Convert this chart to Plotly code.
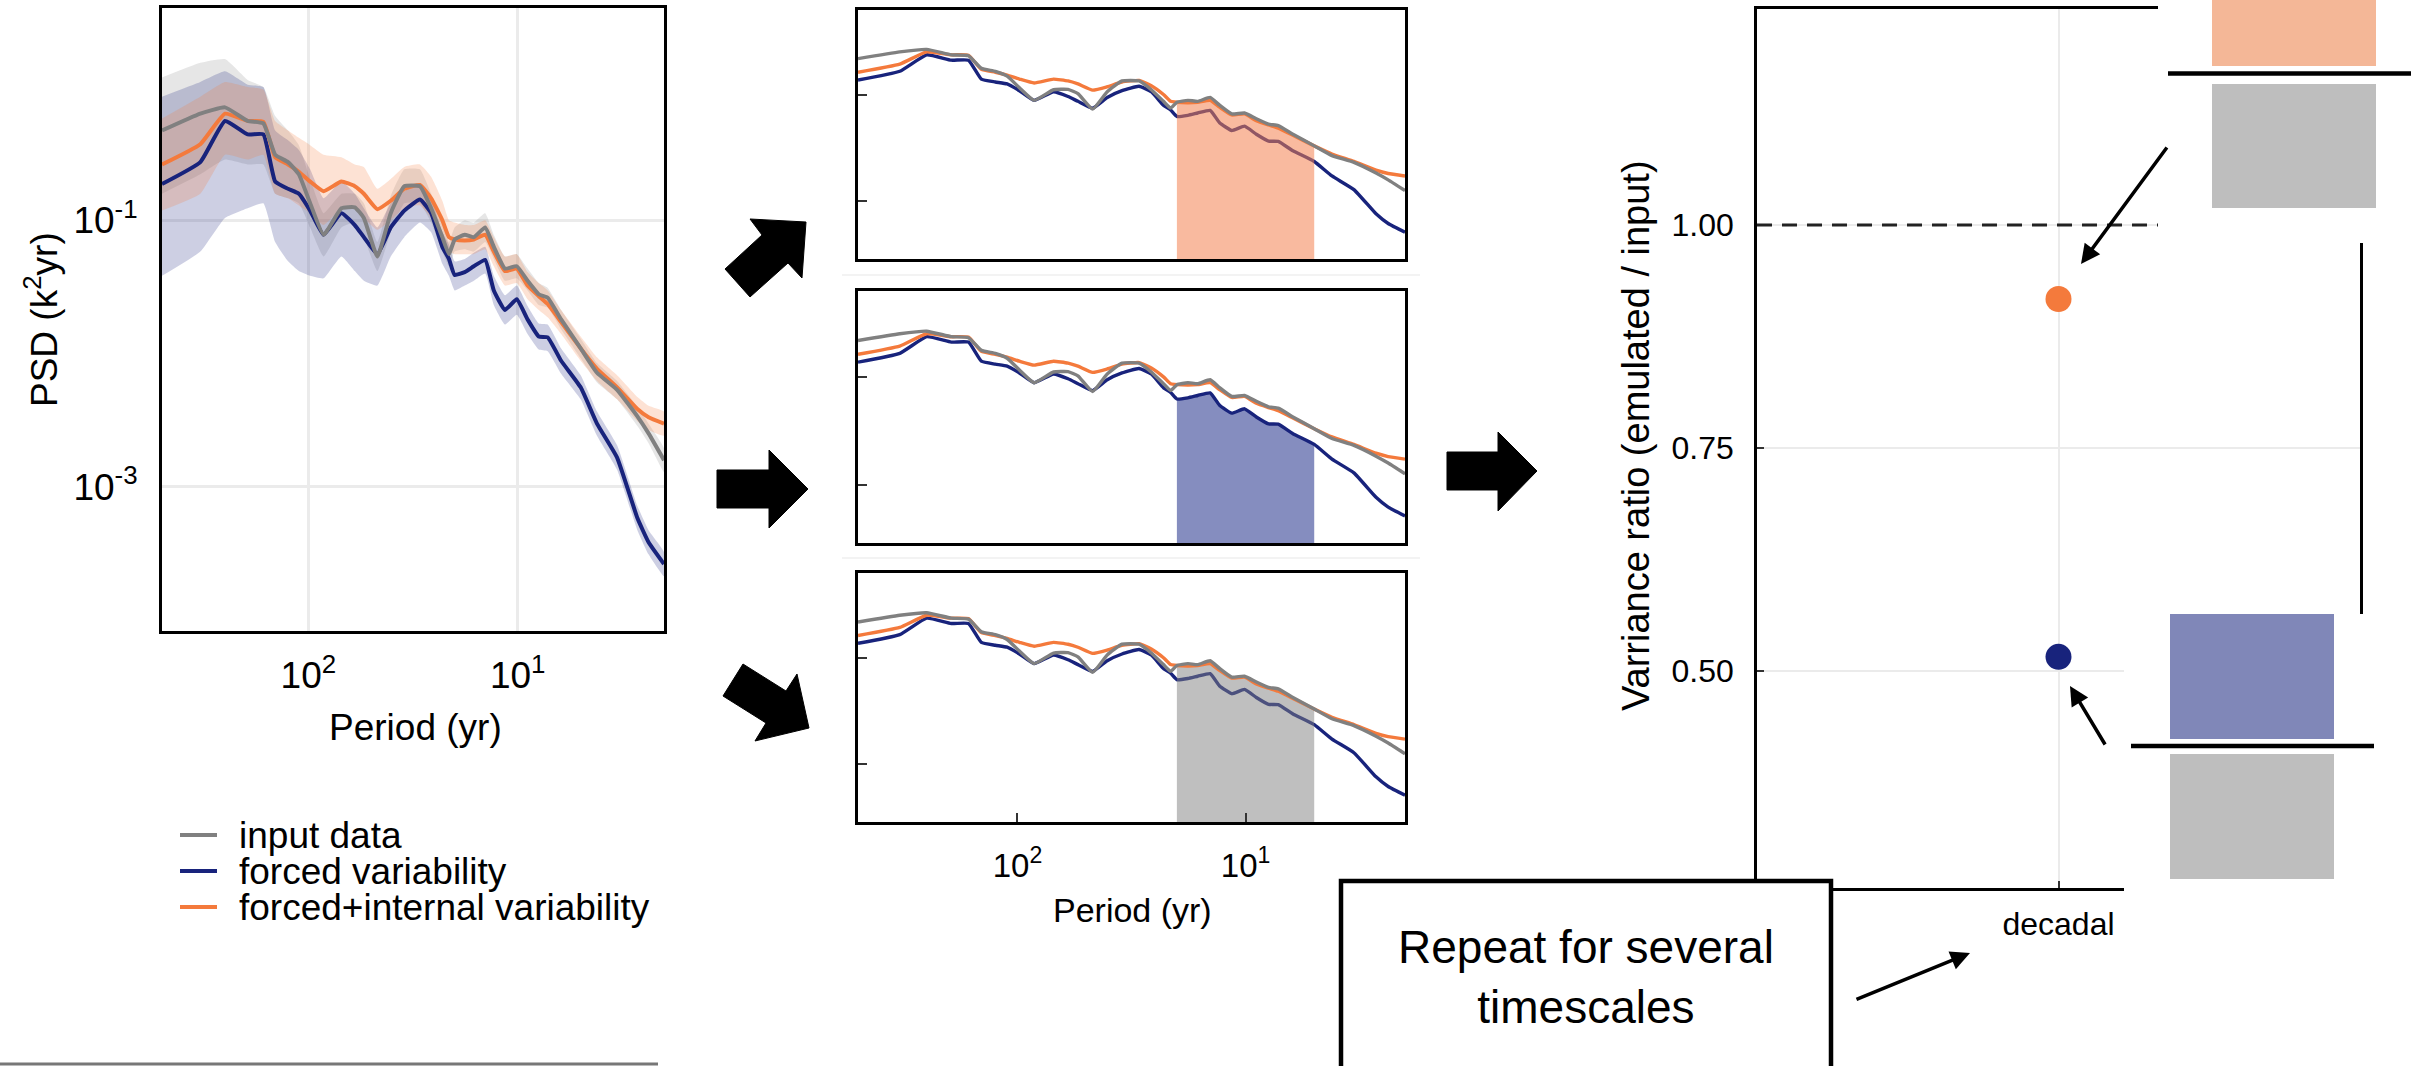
import math
import plotly.graph_objects as go

W, H = 2420, 1066

# ---------------- data ----------------
period = [500, 328, 250, 195, 164, 144, 125, 111, 98, 84.5, 69.5, 60, 54.3, 46.8, 40.4,
          34.8, 29.3, 25.9, 22.9, 21.3, 20, 17.9, 16.2, 14.3, 13.0, 11.5, 10.1, 8.97,
          7.93, 7.19, 6.20, 5.0, 4.18, 3.35, 2.68, 2.37, 2.0]

input_data = [0.471, 0.631, 0.703, 0.556, 0.533, 0.310, 0.273, 0.221, 0.134, 0.0778, 0.123,
              0.125, 0.104, 0.0534, 0.113, 0.180, 0.180, 0.123, 0.0746, 0.0556, 0.0716,
              0.0778, 0.0746, 0.0882, 0.0631, 0.0433, 0.0451, 0.0351, 0.0278, 0.0262,
              0.0180, 0.0109, 0.00716, 0.00533, 0.00337, 0.00251, 0.00158]

forced_internal = [0.262, 0.372, 0.631, 0.556, 0.547, 0.297, 0.262, 0.231, 0.195, 0.165, 0.195,
                   0.180, 0.158, 0.121, 0.140, 0.172, 0.184, 0.146, 0.100, 0.0746, 0.0716,
                   0.0703, 0.0716, 0.0778, 0.0581, 0.0415, 0.0433, 0.0323, 0.0269, 0.0235,
                   0.0172, 0.0109, 0.00766, 0.00556, 0.00382, 0.00331, 0.00297]

forced = [0.187, 0.273, 0.556, 0.441, 0.441, 0.195, 0.172, 0.158, 0.118, 0.0778, 0.113,
          0.0920, 0.0746, 0.0556, 0.0882, 0.118, 0.143, 0.113, 0.0631, 0.0512, 0.0388,
          0.0408, 0.0451, 0.0504, 0.0297, 0.0212, 0.0255, 0.0180, 0.0134, 0.0132,
          0.00881, 0.00556, 0.00297, 0.00165, 0.000581, 0.000382, 0.000262]

input_upper = [1.18, 1.52, 1.62, 1.13, 1.00, 0.605, 0.471, 0.366, 0.204, 0.113, 0.158, 0.158,
               0.134, 0.0686, 0.152, 0.241, 0.241, 0.158, 0.0959, 0.0686, 0.0882, 0.100,
               0.0959, 0.113, 0.0778, 0.0534, 0.0556, 0.0433, 0.0337, 0.0310, 0.0212,
               0.0129, 0.00846, 0.00621, 0.00398, 0.00297, 0.00195]
input_lower = [0.158, 0.221, 0.285, 0.262, 0.262, 0.158, 0.146, 0.134, 0.0882, 0.0534, 0.0882,
               0.0959, 0.0746, 0.0415, 0.0811, 0.134, 0.134, 0.0959, 0.0581, 0.0451, 0.0581,
               0.0605, 0.0581, 0.0686, 0.0512, 0.0351, 0.0366, 0.0297, 0.0231, 0.0221,
               0.0152, 0.00920, 0.00605, 0.00452, 0.00285, 0.00212, 0.00129]

fi_upper = [0.580, 0.846, 1.09, 1.00, 0.959, 0.556, 0.471, 0.415, 0.366, 0.310, 0.297, 0.262,
            0.251, 0.172, 0.204, 0.251, 0.262, 0.212, 0.140, 0.100, 0.0959, 0.0920, 0.0920,
            0.100, 0.0746, 0.0534, 0.0556, 0.0408, 0.0337, 0.0297, 0.0212, 0.0134, 0.00935,
            0.00686, 0.00471, 0.00405, 0.00366]
fi_lower = [0.118, 0.158, 0.310, 0.285, 0.310, 0.158, 0.146, 0.129, 0.113, 0.0920, 0.123,
            0.123, 0.104, 0.0846, 0.100, 0.123, 0.129, 0.104, 0.0716, 0.0581, 0.0556,
            0.0556, 0.0556, 0.0605, 0.0451, 0.0323, 0.0337, 0.0255, 0.0212, 0.0187,
            0.0140, 0.00881, 0.00621, 0.00452, 0.00310, 0.00266, 0.00241]

forced_upper = [0.846, 1.09, 1.31, 1.04, 1.00, 0.471, 0.398, 0.337, 0.241, 0.146, 0.195,
                0.158, 0.123, 0.0882, 0.134, 0.165, 0.187, 0.146, 0.0811, 0.0658, 0.0491,
                0.0512, 0.0570, 0.0631, 0.0382, 0.0273, 0.0323, 0.0227, 0.0168, 0.0165,
                0.0109, 0.00686, 0.00366, 0.00204, 0.000716, 0.000471, 0.000323]
forced_lower = [0.0382, 0.0581, 0.104, 0.123, 0.134, 0.0686, 0.0491, 0.0415, 0.0382, 0.0366,
                0.0534, 0.0415, 0.0351, 0.0323, 0.0534, 0.0746, 0.0959, 0.0811, 0.0471,
                0.0382, 0.0297, 0.0323, 0.0351, 0.0398, 0.0231, 0.0165, 0.0195, 0.0140,
                0.0107, 0.0104, 0.00704, 0.00452, 0.00241, 0.00134, 0.000471, 0.000310,
                0.000212]

band_long, band_short = 20, 5          # decadal band (yr)

timescales = ["decadal"]
ratio_forced_internal = [0.917]
ratio_forced = [0.516]

legend_labels = ["input data", "forced variability", "forced+internal variability"]
psd_ticks = [0.1, 0.001]
psd_ticktext = ["10<sup>-1</sup>", "10<sup>-3</sup>"]
period_ticks = [100, 10]
period_ticktext = ["10<sup>2</sup>", "10<sup>1</sup>"]
ratio_ticks = [0.5, 0.75, 1.0]
ratio_ticktext = ["0.50", "0.75", "1.00"]

# ---------------- styles ----------------
FONT = "Liberation Sans, Arial, Helvetica, sans-serif"
GRAY = "#808080"
BLUE = "#18237c"
ORANGE = "#f47a3c"
GRID = "#ebebeb"

x_range = [math.log10(500), math.log10(2)]
y_range = [-4.084, 0.593]


def px(x):
    return x / W


def py(y):
    return 1 - y / H


traces = []


def band(lo, hi, color, xa, ya):
    return go.Scatter(x=period + period[::-1], y=hi + lo[::-1], fill="toself",
                      fillcolor=color, line=dict(width=0, shape="spline", smoothing=0.4),
                      mode="lines", hoverinfo="skip", showlegend=False, xaxis=xa, yaxis=ya)


def line(y, color, width, xa, ya, name):
    return go.Scatter(x=period, y=y, mode="lines",
                      line=dict(color=color, width=width, shape="spline", smoothing=0.4),
                      showlegend=False, name=name, xaxis=xa, yaxis=ya)


# left panel
traces.append(band(input_lower, input_upper, "rgba(128,128,128,0.20)", "x", "y"))
traces.append(band(forced_lower, forced_upper, "rgba(26,35,126,0.22)", "x", "y"))
traces.append(band(fi_lower, fi_upper, "rgba(244,121,59,0.22)", "x", "y"))
traces.append(line(forced, BLUE, 4, "x", "y", legend_labels[1]))
traces.append(line(forced_internal, ORANGE, 4, "x", "y", legend_labels[2]))
traces.append(line(input_data, GRAY, 4, "x", "y", legend_labels[0]))

# middle panels
idx = [i for i, p in enumerate(period) if band_short <= p <= band_long]
sub_x = [period[i] for i in idx]
base = 10 ** y_range[0]


def shade(series, color, xa, ya):
    sy = [series[i] for i in idx]
    return go.Scatter(x=sub_x + sub_x[::-1], y=sy + [base] * len(sub_x), fill="toself",
                      fillcolor=color, line=dict(width=0), mode="lines",
                      hoverinfo="skip", showlegend=False, xaxis=xa, yaxis=ya)


mw = 3.4
# panel 1: forced+internal share
traces.append(line(forced, BLUE, mw, "x2", "y2", "forced"))
traces.append(shade(forced_internal, "rgba(244,130,80,0.55)", "x2", "y2"))
traces.append(line(forced_internal, ORANGE, mw, "x2", "y2", "fi"))
traces.append(line(input_data, GRAY, mw, "x2", "y2", "input"))
# panel 2: forced share
traces.append(shade(forced, "#858dbf", "x3", "y3"))
traces.append(line(forced, BLUE, mw, "x3", "y3", "forced"))
traces.append(line(forced_internal, ORANGE, mw, "x3", "y3", "fi"))
traces.append(line(input_data, GRAY, mw, "x3", "y3", "input"))
# panel 3: input share
traces.append(line(forced, BLUE, mw, "x4", "y4", "forced"))
traces.append(shade(input_data, "rgba(128,128,128,0.5)", "x4", "y4"))
traces.append(line(forced_internal, ORANGE, mw, "x4", "y4", "fi"))
traces.append(line(input_data, GRAY, mw, "x4", "y4", "input"))

# right panel
traces.append(go.Scatter(x=timescales, y=ratio_forced_internal, mode="markers",
                         marker=dict(size=26, color=ORANGE), showlegend=False,
                         xaxis="x5", yaxis="y5"))
traces.append(go.Scatter(x=timescales, y=ratio_forced, mode="markers",
                         marker=dict(size=26, color=BLUE), showlegend=False,
                         xaxis="x5", yaxis="y5"))

fig = go.Figure(traces)

# ---------------- axes ----------------
layout = dict(
    width=W, height=H, margin=dict(l=0, r=0, t=0, b=0),
    paper_bgcolor="white", plot_bgcolor="white",
    font=dict(family=FONT, color="black"),
    showlegend=False,
)

layout["xaxis"] = dict(domain=[px(162), px(664)], type="log", range=x_range, anchor="y",
                       tickvals=period_ticks, ticktext=period_ticktext,
                       showgrid=True, gridcolor=GRID, gridwidth=2.5, zeroline=False,
                       showline=True, linecolor="black", linewidth=3, mirror=True,
                       ticks="", tickfont=dict(size=37), ticklabelstandoff=10)
layout["yaxis"] = dict(domain=[py(631), py(8)], type="log", range=y_range, anchor="x",
                       tickvals=psd_ticks, ticktext=psd_ticktext,
                       showgrid=True, gridcolor=GRID, gridwidth=2.5, zeroline=False,
                       showline=True, linecolor="black", linewidth=3, mirror=True,
                       ticks="", tickfont=dict(size=37), ticklabelstandoff=14)

mid_y = [(9.6, 259), (291, 543), (573, 822)]
for k, (t, b) in enumerate(mid_y):
    n = k + 2
    last = k == 2
    layout[f"xaxis{n}"] = dict(domain=[px(858), px(1405)], type="log", range=x_range,
                               anchor=f"y{n}", tickvals=period_ticks,
                               ticktext=period_ticktext, showticklabels=last,
                               ticks="inside" if last else "", ticklen=9, tickwidth=2,
                               tickcolor="#333", showgrid=False, zeroline=False,
                               showline=True, linecolor="black", linewidth=3, mirror=True,
                               tickfont=dict(size=33), ticklabelstandoff=12)
    layout[f"yaxis{n}"] = dict(domain=[py(b), py(t)], type="log", range=y_range,
                               anchor=f"x{n}", tickvals=psd_ticks, showticklabels=False,
                               ticks="inside", ticklen=9, tickwidth=2, tickcolor="#333",
                               showgrid=False, zeroline=False, showline=True,
                               linecolor="black", linewidth=3, mirror=True)

layout["xaxis5"] = dict(domain=[px(1757), px(2360)], type="category", range=[-0.5, 0.5],
                        anchor="y5", showgrid=True, gridcolor=GRID, gridwidth=2,
                        showline=True, linecolor="black", linewidth=2.5, mirror=True,
                        ticks="inside", ticklen=7, tickwidth=2, tickcolor="#333",
                        tickfont=dict(size=32), ticklabelstandoff=6)
layout["yaxis5"] = dict(domain=[py(888), py(9)], range=[0.257, 1.242], anchor="x5",
                        tickvals=ratio_ticks, ticktext=ratio_ticktext,
                        showgrid=True, gridcolor=GRID, gridwidth=2, zeroline=False,
                        showline=True, linecolor="black", linewidth=2.5, mirror=True,
                        ticks="inside", ticklen=7, tickwidth=2, tickcolor="#333",
                        tickfont=dict(size=32), ticklabelstandoff=14)

fig.update_layout(**layout)

# ---------------- decorations ----------------
shapes = []


def hline(x0, x1, y, color, width, dash="solid"):
    shapes.append(dict(type="line", xref="paper", yref="paper", x0=px(x0), x1=px(x1),
                       y0=py(y), y1=py(y), line=dict(color=color, width=width, dash=dash)))


def rect(x0, x1, y0, y1, fill, lcolor=None, lwidth=0):
    shapes.append(dict(type="rect", xref="paper", yref="paper", x0=px(x0), x1=px(x1),
                       y0=py(y1), y1=py(y0), fillcolor=fill,
                       line=dict(color=lcolor or fill, width=lwidth), layer="above"))


def poly(points):
    d = "M " + " L ".join(f"{px(x):.5f},{py(y):.5f}" for x, y in points) + " Z"
    shapes.append(dict(type="path", xref="paper", yref="paper", path=d,
                       fillcolor="black", line=dict(color="black", width=1)))


# faint separators and bottom rule
hline(842, 1420, 275, "#f3f3f3", 2)
hline(842, 1420, 558, "#f3f3f3", 2)
hline(0, 658, 1064, "#777777", 3)

# legend samples
leg_y = [835, 871, 907]
for yy, c in zip(leg_y, [GRAY, BLUE, ORANGE]):
    hline(180, 217, yy, c, 4)

# block arrows
poly([(725, 269), (762, 235), (750, 219), (806, 222), (802, 278), (788, 263), (750, 297)])
poly([(717, 470), (769, 470), (769, 450), (808, 489), (769, 528), (769, 508), (717, 508)])
poly([(743, 664), (786, 691), (797, 674), (809, 728), (755, 741), (766, 723), (723, 696)])
poly([(1447, 452), (1498, 452), (1498, 432), (1537, 471), (1498, 511), (1498, 490), (1447, 490)])

# dashed reference line at ratio 1
shapes.append(dict(type="line", xref="x5 domain", yref="y5", x0=0, x1=1, y0=1.0, y1=1.0,
                   line=dict(color="#222222", width=3, dash="15px,10px")))

# inset covers and fraction glyphs
rect(2158, 2430, -10, 243, "white")
rect(2124, 2430, 614, 1080, "white")
rect(2212, 2376, -10, 66, "#f4b797")
hline(2168, 2411, 73.5, "black", 4.5)
rect(2212, 2376, 84, 208, "#bebebe")
rect(2170, 2334, 614, 739, "#8087b8")
hline(2131, 2374, 746, "black", 4.5)
rect(2170, 2334, 754, 879, "#bebebe")

# text box
rect(1341, 1831, 881, 1090, "white", "black", 4.5)

fig.update_layout(shapes=shapes)

# ---------------- annotations ----------------
ann = []


def text(x, y, s, size, angle=0, xanchor="center"):
    ann.append(dict(xref="paper", yref="paper", x=px(x), y=py(y), text=s, showarrow=False,
                    font=dict(size=size, family=FONT, color="black"), textangle=angle,
                    xanchor=xanchor, yanchor="middle"))


def arrow(tail, head):
    ann.append(dict(xref="paper", yref="paper", x=px(head[0]), y=py(head[1]), text="",
                    showarrow=True, axref="pixel", ayref="pixel",
                    ax=tail[0] - head[0], ay=tail[1] - head[1],
                    arrowhead=2, arrowsize=1.1, arrowwidth=3.5, arrowcolor="black",
                    standoff=0))


text(41, 319, "PSD (k<sup>2</sup>yr)", 37, angle=-90)
text(415, 727, "Period (yr)", 37)
text(1132, 910, "Period (yr)", 34)
text(1636, 436, "Varriance ratio (emulated / input)", 38, angle=-90)
for yy, lab in zip(leg_y, legend_labels):
    text(237, yy, lab, 37, xanchor="left")
text(1586, 977, "Repeat for several<br>timescales", 46)

arrow((2168, 146), (2081, 264))
arrow((2106, 746), (2070, 686))
arrow((1855, 1000), (1970, 953))

fig.update_layout(annotations=ann)

fig.write_html("out.html")
